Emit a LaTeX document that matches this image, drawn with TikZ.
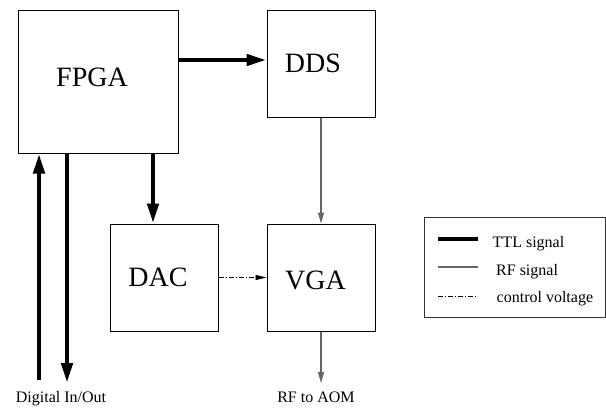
\documentclass[tikz,border=0pt]{standalone}
\usepackage{fontspec}
\setmainfont{Liberation Serif}
\usetikzlibrary{arrows.meta}
\begin{document}
\begin{tikzpicture}[x=1pt,y=-1pt,
  blockbox/.style={draw=black,line width=1pt,inner sep=0pt,fill=white},
  bigtext/.style={font=\fontsize{28}{30}\selectfont,anchor=base,inner sep=0pt},
  smalltext/.style={font=\fontsize{16}{18}\selectfont,anchor=base,inner sep=0pt},
  ttl/.style={line width=4.5pt,-{Triangle[length=20pt,width=11pt]}},
  rf/.style={draw=black!60,line width=1.2pt,-{Triangle[length=11pt,width=6pt]}},
  ctrl/.style={line width=0.8pt,dash pattern=on 5pt off 2pt on 1pt off 2pt,-{Triangle[length=11pt,width=5pt]}}]
\useasboundingbox[fill=white] (0,0) rectangle (606,408);
% blocks
\node[blockbox,minimum width=160pt,minimum height=143pt] (fpga) at (98,81.5) {};
\node[blockbox,minimum width=108pt,minimum height=107pt] (dds) at (321,63.5) {};
\node[blockbox,minimum width=108pt,minimum height=107pt] (dac) at (164,277.5) {};
\node[blockbox,minimum width=108pt,minimum height=107pt] (vga) at (321,277.5) {};
\node[blockbox,draw=black!80,minimum width=181pt,minimum height=100pt] (legend) at (514.5,267) {};
% labels
\node[bigtext] (tfpga) at (92,86) {FPGA};
\node[bigtext] (tdds) at (313,72) {DDS};
\node[bigtext] (tdac) at (158,286) {DAC};
\node[bigtext] (tvga) at (315.5,289) {VGA};
\node[smalltext] (tdig) at (61,402.5) {Digital In/Out};
\node[smalltext] (trf) at (316,402) {RF to AOM};
% free ends
\coordinate (din) at (39,380);
\coordinate (dout) at (67,383);
\coordinate (rfout) at (321,383);
% connectors
\draw[ttl] (fpga.east |- 0,60) -- (dds.west |- 0,60);
\draw[ttl] (fpga.south -| 153,0) -- (dac.north -| 153,0);
\draw[ttl] (din) -- (fpga.south -| din);
\draw[ttl] (fpga.south -| dout) -- (dout);
\draw[rf] (dds.south) -- (vga.north);
\draw[rf] (vga.south) -- (rfout);
\draw[ctrl] (dac.east) -- (vga.west);
% legend
\draw[line width=4pt] (438,238.5) -- (478,238.5);
\draw[draw=black!60,line width=1.2pt] (438,267) -- (478,267);
\draw[line width=0.8pt,dash pattern=on 5pt off 2pt on 1pt off 2pt] (438,296.5) -- (478,296.5);
\node[smalltext,anchor=base west] (l1) at (492.5,247) {TTL signal};
\node[smalltext,anchor=base west] (l2) at (496,275) {RF signal};
\node[smalltext,anchor=base west] (l3) at (496.5,302.5) {control voltage};
\end{tikzpicture}
\end{document}
